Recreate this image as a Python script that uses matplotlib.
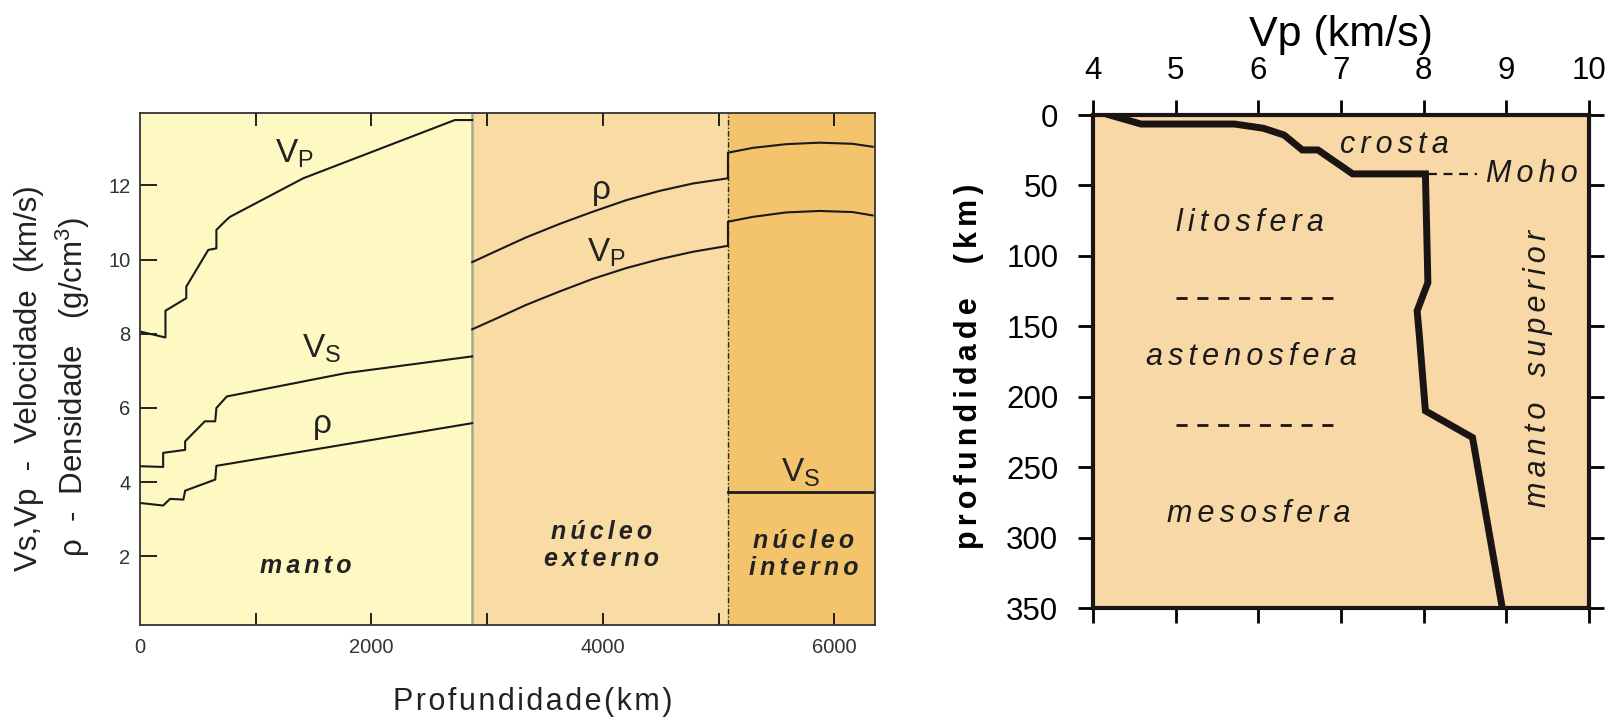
import matplotlib
matplotlib.use("Agg")
import matplotlib.pyplot as plt

plt.rcParams['font.family'] = ['Liberation Sans', 'DejaVu Sans']
plt.rcParams['mathtext.default'] = 'regular'

# ---- left panel data: depth (km) vs velocity / density ----
vp_mantle_km = [0, 220, 220, 400, 400, 590, 660, 660, 748, 777, 1410, 2720, 2870]
vp_mantle = [8.06, 7.90, 8.62, 8.96, 9.27, 10.26, 10.30, 10.80, 11.07, 11.15, 12.19, 13.76, 13.76]

vs_mantle_km = [0, 200, 200, 390, 390, 560, 650, 660, 750, 1780, 2870]
vs_mantle = [4.43, 4.41, 4.79, 4.87, 5.10, 5.64, 5.64, 6.00, 6.31, 6.94, 7.39]

rho_mantle_km = [0, 200, 260, 375, 390, 650, 660, 2870]
rho_mantle = [3.44, 3.37, 3.55, 3.53, 3.77, 4.07, 4.44, 5.59]

core_km = [2870, 3050, 3338, 3625, 3913, 4201, 4489, 4777, 5080,
           5080, 5294, 5582, 5870, 6157, 6330]
rho_core = [9.93, 10.19, 10.60, 10.96, 11.29, 11.60, 11.85, 12.05, 12.19,
            12.88, 13.01, 13.11, 13.15, 13.12, 13.04]
vp_core = [8.12, 8.37, 8.78, 9.14, 9.48, 9.77, 10.01, 10.21, 10.37,
           11.02, 11.15, 11.27, 11.31, 11.28, 11.19]

vs_inner_km = [5080, 6350]
vs_inner = [3.73, 3.73]

layer_edges = [0, 2870, 5080, 6350]
layer_colors = ['#fef9c2', '#f8dca4', '#f3c46c']

# ---- right panel data: Vp (km/s) vs depth (km) ----
vp_upper = [4.20, 4.58, 5.71, 6.06, 6.31, 6.53, 6.72, 7.14, 8.02, 8.05, 7.92, 7.95, 8.02, 8.59, 8.95]
depth_upper = [0, 6.4, 6.4, 9.4, 14.2, 24.8, 24.8, 41.8, 41.8, 119, 139, 159, 210, 229, 350]
moho_depth = 42
boundary_depths = [130, 220]


def spaced(s, sp='\u2006'):
    # the original uses wide letter tracking
    return sp.join(s)


fig = plt.figure(figsize=(16.11, 7.17), dpi=100)

# ================= left panel =================
ax = fig.add_axes([0.0869, 0.1283, 0.4562, 0.7141])
for i in range(3):
    ax.axvspan(layer_edges[i], layer_edges[i + 1], color=layer_colors[i], lw=0, zorder=0)
ax.axvline(layer_edges[1], color='#a8a88a', lw=1.8, zorder=1)
ax.axvline(layer_edges[2], color='#222222', lw=1.0, ls=(0, (4, 1.5, 1, 1.5)), zorder=1)

lc = '#1a1a1a'
ax.plot(vp_mantle_km, vp_mantle, color=lc, lw=1.5)
ax.plot(vs_mantle_km, vs_mantle, color=lc, lw=1.5)
ax.plot(rho_mantle_km, rho_mantle, color=lc, lw=1.5)
ax.plot(core_km, rho_core, color=lc, lw=1.5)
ax.plot(core_km, vp_core, color=lc, lw=1.5)
ax.plot(vs_inner_km, vs_inner, color=lc, lw=2.0)

ax.set_xlim(0, 6350)
ax.set_ylim(0.15, 13.95)
ax.set_xticks([0, 1000, 2000, 3000, 4000, 5000, 6000])
ax.set_xticklabels(['0', '', '2000', '', '4000', '', '6000'])
ax.set_yticks([2, 4, 6, 8, 10, 12])
ax.tick_params(axis='x', direction='in', top=True, length=9, width=1.2,
               labelsize=14.5, labelcolor='#333333', pad=9)
ax.tick_params(axis='y', direction='in', length=12, width=1.2,
               labelsize=14.5, labelcolor='#333333', pad=7)
ax.xaxis.get_major_ticks()[0].tick1line.set_visible(False)
ax.xaxis.get_major_ticks()[0].tick2line.set_visible(False)
for s in ax.spines.values():
    s.set_color('#333333')
    s.set_linewidth(1.3)

txt = dict(color='#222222', ha='center', va='center')
ax.text(1337, 12.84, 'V$_P$', fontsize=24, **txt)
ax.text(1567, 7.59, 'V$_S$', fontsize=24, **txt)
ax.text(1576, 5.55, 'ρ', fontsize=24, **txt)
ax.text(3985, 11.85, 'ρ', fontsize=24, **txt)
ax.text(4028, 10.17, 'V$_P$', fontsize=24, **txt)
ax.text(5711, 4.25, 'V$_S$', fontsize=24, **txt)
bi = dict(fontsize=18, fontweight='bold', style='italic', linespacing=1.15, **txt)
ax.text(1435, 1.73, spaced('manto'), **bi)
ax.text(3990, 2.3, spaced('núcleo') + '\n' + spaced('externo'), **bi)
ax.text(5735, 2.05, spaced('núcleo') + '\n' + spaced('interno'), **bi)

fig.text(0.018, 0.472, 'Vs,Vp  -  Velocidade  (km/s)', rotation=90, ha='center',
         va='center', fontsize=22.5, color='#222222')
fig.text(0.045, 0.46, 'ρ  -  Densidade   (g/cm$^3$)', rotation=90, ha='center',
         va='center', fontsize=22.5, color='#222222')
fig.text(0.331, 0.021, spaced('Profundidade(km)', '\u200a'), ha='center', va='center',
         fontsize=22, color='#222222')

# ================= right panel =================
bx = fig.add_axes([0.6785, 0.1520, 0.3079, 0.6876])
bx.set_facecolor('#f8d8a6')
bx.plot(vp_upper, depth_upper, color='#1a1414', lw=5, solid_joinstyle='miter')
bx.plot([8.05, 8.65], [moho_depth, moho_depth], color='#1a1414', lw=1.6, ls=(0, (4, 3)))
for d in boundary_depths:
    bx.plot([5.0, 7.0], [d, d], color='#1a1414', lw=2, ls=(0, (4, 3.5)))

bx.set_xlim(4, 10)
bx.set_ylim(350, 0)
bx.set_xticks(range(4, 11))
bx.set_yticks(range(0, 351, 50))
bx.tick_params(axis='x', direction='out', top=True, bottom=True, labeltop=True,
               labelbottom=False, length=11, width=2, labelsize=22.5, pad=10)
bx.tick_params(axis='y', direction='out', left=True, right=True, length=11, width=2,
               labelsize=22.5, pad=14)
for s in bx.spines.values():
    s.set_linewidth(3)
    s.set_color('#1a1414')

fig.text(0.8325, 0.951, 'Vp (km/s)', ha='center', va='center', fontsize=31)
fig.text(0.6015, 0.489, spaced('profundidade') + '    ' + spaced('(km)'), rotation=90,
         ha='center', va='center', fontsize=22, fontweight='bold')

rt = dict(color='#1a1a1a', style='italic', fontsize=22, ha='center', va='center')
bx.text(7.65, 21, spaced('crosta'), **rt)
bx.text(8.75, 42, spaced('Moho'), color='#1a1a1a', style='italic', fontsize=22,
        ha='left', va='center')
bx.text(5.9, 77, spaced('litosfera'), **rt)
bx.text(5.92, 172, spaced('astenosfera'), **rt)
bx.text(6.0, 283, spaced('mesosfera'), **rt)
bx.text(9.38, 180, spaced('manto') + '   ' + spaced('superior'), rotation=90, **rt)

fig.savefig('out.png', dpi=100)
